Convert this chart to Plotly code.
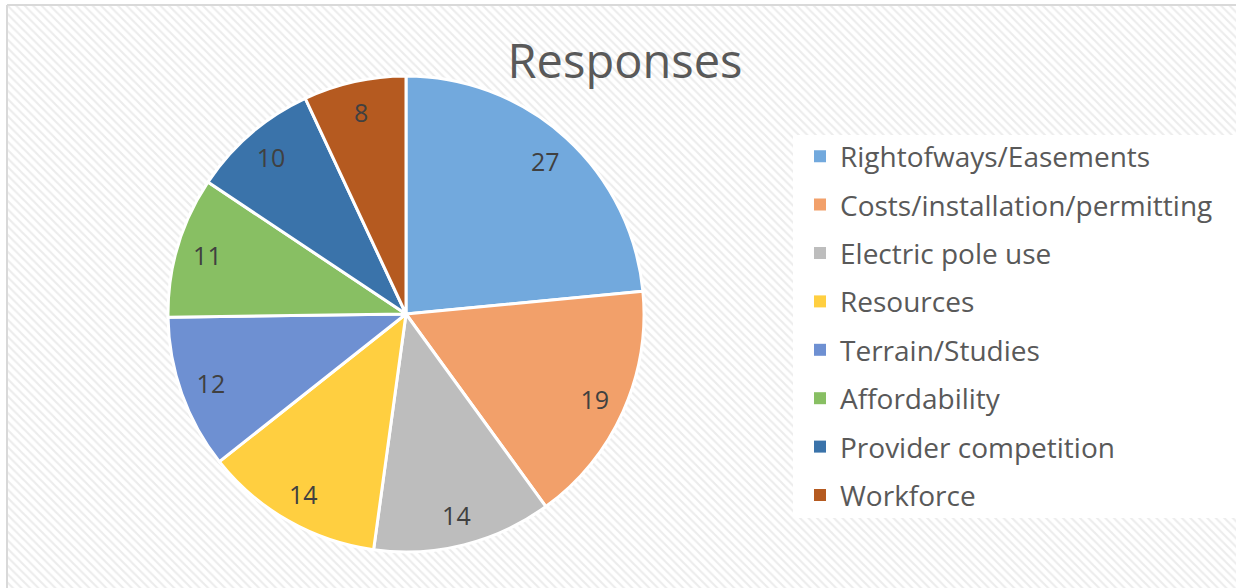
import plotly.graph_objects as go

categories = ["Rightofways/Easements", "Costs/installation/permitting", "Electric pole use",
              "Resources", "Terrain/Studies", "Affordability", "Provider competition", "Workforce"]
values = [27, 19, 14, 14, 12, 11, 10, 8]
colors = ["#72a9dd", "#f2a06a", "#bdbdbd", "#ffcf40", "#6e90d2", "#88bf63", "#3a73aa", "#b55a20"]

W, H = 1236, 588
pie_domain = dict(x=[168 / W, 644 / W], y=[1 - 552 / H, 1 - 76 / H])

fig = go.Figure()

# hatched chart-area background
fig.add_trace(go.Bar(
    x=[0], y=[1], width=[1], showlegend=False, hoverinfo="skip",
    marker=dict(color="white", line=dict(width=0),
                pattern=dict(shape="\\", fgcolor="#d9d9d9", bgcolor="white", size=6, solidity=0.35)),
    xaxis="x", yaxis="y",
))

# pie slices
fig.add_trace(go.Pie(
    labels=categories, values=values, sort=False, direction="clockwise", rotation=0,
    marker=dict(colors=colors, line=dict(color="white", width=3)),
    textinfo="none", showlegend=False,
    domain=pie_domain, hoverinfo="label+value",
))

# data labels placed in an outer ring (transparent donut) like the original
fig.add_trace(go.Pie(
    labels=categories, values=values, sort=False, direction="clockwise", rotation=0, hole=0.74,
    marker=dict(colors=["rgba(0,0,0,0)"] * len(values), line=dict(width=0)),
    textinfo="value", textposition="inside", insidetextorientation="horizontal",
    textfont=dict(size=25, color="#404040", family="Open Sans"),
    showlegend=False, domain=pie_domain, hoverinfo="skip",
))

# legend entries
for name, col in zip(categories, colors):
    fig.add_trace(go.Scatter(
        x=[None], y=[None], mode="markers", name=name, legendgroup=name,
        marker=dict(symbol="square", size=12, color=col), xaxis="x", yaxis="y",
    ))

fig.update_layout(
    width=W, height=H, autosize=False,
    margin=dict(l=0, r=0, t=0, b=0),
    paper_bgcolor="white", plot_bgcolor="white",
    font=dict(family="Open Sans", color="#595959"),
    title=dict(text="Responses", x=625 / W, xanchor="center", y=1 - 62 / H, yanchor="middle",
               font=dict(size=47, color="#595959", family="Open Sans")),
    xaxis=dict(domain=[7 / W, 1], range=[-0.5, 0.5], visible=False, fixedrange=True),
    yaxis=dict(domain=[0, 1 - 5 / H], range=[0, 1], visible=False, fixedrange=True),
    bargap=0,
    showlegend=True,
    legend=dict(x=800 / W, xanchor="left", y=1 - 326 / H, yanchor="middle",
                bgcolor="rgba(0,0,0,0)", font=dict(size=28, color="#595959", family="Open Sans"),
                itemwidth=30, tracegroupgap=9),
    shapes=[
        dict(type="rect", xref="paper", yref="paper", x0=793 / W, x1=1, y0=1 - 518 / H, y1=1 - 135 / H,
             fillcolor="white", line=dict(width=0), layer="above"),
        dict(type="line", xref="paper", yref="paper", x0=7 / W, x1=7 / W, y0=0, y1=1 - 5 / H,
             line=dict(color="#d9d9d9", width=2), layer="above"),
        dict(type="line", xref="paper", yref="paper", x0=7 / W, x1=1, y0=1 - 5 / H, y1=1 - 5 / H,
             line=dict(color="#d9d9d9", width=2), layer="above"),
    ],
)

fig.write_html("out.html", config={"displayModeBar": False},
               post_script="document.body.style.margin='0';document.body.style.overflow='hidden';")
